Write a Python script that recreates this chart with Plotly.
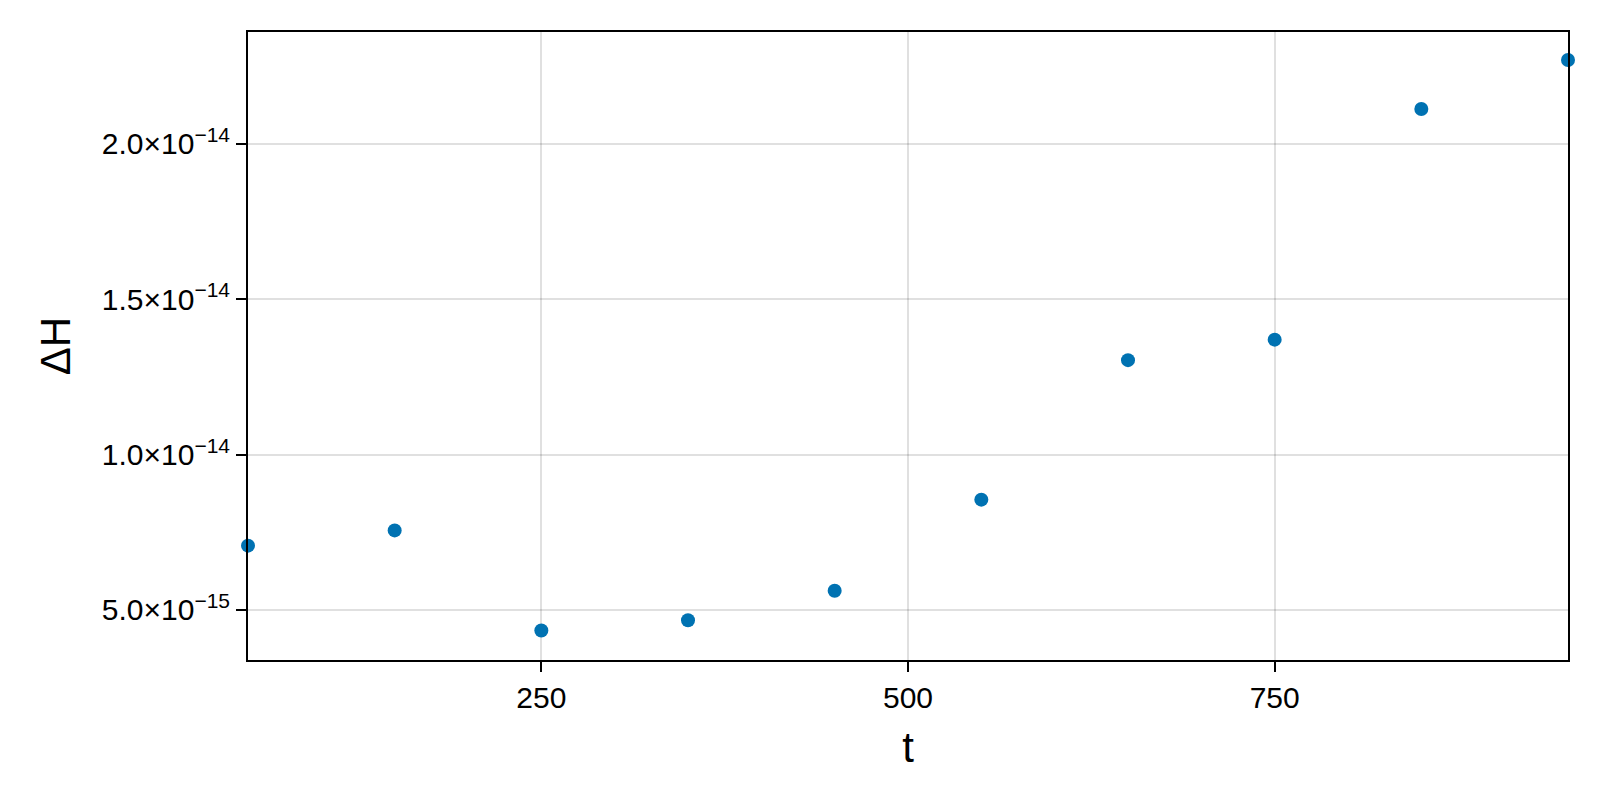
import plotly.graph_objects as go

# data
t = [50, 150, 250, 350, 450, 550, 650, 750, 850, 950]
dH = [0.707e-14, 0.756e-14, 0.434e-14, 0.467e-14, 0.562e-14,
      0.855e-14, 1.304e-14, 1.370e-14, 2.112e-14, 2.270e-14]

x_ticks = [250, 500, 750]
y_ticks = [5e-15, 1e-14, 1.5e-14, 2e-14]
y_labels = ["5.0×10<sup>−15</sup>", "1.0×10<sup>−14</sup>",
            "1.5×10<sup>−14</sup>", "2.0×10<sup>−14</sup>"]

font = "Liberation Sans, Arial, sans-serif"

fig = go.Figure()
fig.add_trace(go.Scatter(
    x=t, y=dH, mode="markers",
    marker=dict(color="#0072B2", size=14, line=dict(width=0)),
    cliponaxis=False,
))

axis_common = dict(
    showline=True, linecolor="black", linewidth=2, mirror=True,
    showgrid=True, gridcolor="rgba(0,0,0,0.12)", gridwidth=2,
    zeroline=False, ticks="outside", ticklen=10, tickwidth=2, tickcolor="black",
    tickfont=dict(family=font, size=30, color="black"),
)

# page body adds ~8px offset, so margins are shifted to compensate
fig.update_layout(
    width=1600, height=800,
    plot_bgcolor="white", paper_bgcolor="white",
    margin=dict(l=240, r=40, t=24, b=148),
    showlegend=False,
    xaxis=dict(
        range=[50, 950], tickvals=x_ticks,
        title=dict(text="t", font=dict(family=font, size=42, color="black"), standoff=20),
        **axis_common,
    ),
    yaxis=dict(
        range=[0.339e-14, 2.360e-14], tickvals=y_ticks, ticktext=y_labels,
        title=dict(text="ΔH", font=dict(family=font, size=42, color="black"), standoff=18),
        **axis_common,
    ),
)

fig.write_html("out.html")
